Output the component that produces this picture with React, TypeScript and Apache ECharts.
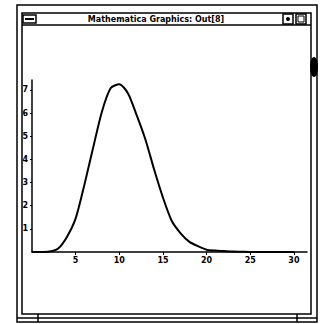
import React, { useEffect, useRef } from "react";
import * as echarts from "echarts";

const xValues = [0, 1, 2, 3, 4, 5, 6, 7, 8, 9, 10, 11, 12, 13, 14, 15, 16, 17, 18, 19, 20, 21, 22, 23, 24, 25, 26, 27, 28, 29, 30];
const yValues = [0, 0, 0.02, 0.15, 0.65, 1.45, 2.9, 4.5, 6.05, 7.07, 7.25, 6.85, 5.9, 4.85, 3.55, 2.35, 1.35, 0.82, 0.45, 0.25, 0.1, 0.06, 0.04, 0.02, 0.01, 0, 0, 0, 0, 0, 0];
const xTicks = [5, 10, 15, 20, 25, 30];
const yTicks = [1, 2, 3, 4, 5, 6, 7];
const windowTitle = "Mathematica Graphics: Out[8]";

export default function App() {
  const ref = useRef<HTMLDivElement>(null);
  useEffect(() => {
    if (!ref.current) return;
    const chart = echarts.init(ref.current, null, { renderer: "svg" });
    const lineStyle = { stroke: "#000", lineWidth: 1.5, fill: "none" };
    chart.setOption({
      animation: false,
      backgroundColor: "#fff",
      grid: { left: 32, right: 24, top: 80, bottom: 72 },
      xAxis: {
        type: "value",
        min: 0,
        max: 31.5,
        splitLine: { show: false },
        axisLine: { show: true, lineStyle: { color: "#000", width: 1.5 } },
        axisTick: { show: true, length: 3, lineStyle: { color: "#000" }, customValues: xTicks },
        axisLabel: {
          customValues: xTicks,
          color: "#000",
          fontSize: 8,
          fontWeight: "bold",
          fontFamily: "DejaVu Sans",
          margin: 4,
        },
      },
      yAxis: {
        type: "value",
        min: 0,
        max: 7.43,
        splitLine: { show: false },
        axisLine: { show: true, lineStyle: { color: "#000", width: 1.5 } },
        axisTick: { show: true, length: 2, lineStyle: { color: "#000" }, customValues: yTicks },
        axisLabel: {
          customValues: yTicks,
          color: "#000",
          fontSize: 8,
          fontWeight: "bold",
          fontFamily: "DejaVu Sans",
          margin: 4,
        },
      },
      series: [
        {
          type: "line",
          data: xValues.map((x, i) => [x, yValues[i]]),
          showSymbol: false,
          smooth: 0.25,
          lineStyle: { color: "#000", width: 2 },
          z: 3,
        },
      ],
      graphic: [
        { type: "rect", shape: { x: 17, y: 5, width: 300, height: 317 }, style: lineStyle, silent: true },
        { type: "rect", shape: { x: 22, y: 13, width: 289, height: 301 }, style: lineStyle, silent: true },
        { type: "line", shape: { x1: 22, y1: 25, x2: 311, y2: 25 }, style: lineStyle, silent: true },
        { type: "rect", shape: { x: 23, y: 15, width: 13, height: 8 }, style: lineStyle, silent: true },
        { type: "line", shape: { x1: 25, y1: 19, x2: 34, y2: 19 }, style: { stroke: "#000", lineWidth: 2 }, silent: true },
        { type: "rect", shape: { x: 283, y: 14, width: 10, height: 10 }, style: lineStyle, silent: true },
        { type: "circle", shape: { cx: 288, cy: 19, r: 2 }, style: { fill: "#000" }, silent: true },
        { type: "rect", shape: { x: 296, y: 14, width: 10, height: 10 }, style: lineStyle, silent: true },
        { type: "rect", shape: { x: 298, y: 16, width: 6, height: 6 }, style: { stroke: "#000", lineWidth: 1, fill: "none" }, silent: true },
        {
          type: "text",
          style: {
            text: windowTitle,
            x: 156,
            y: 19,
            align: "center",
            verticalAlign: "middle",
            font: "bold 8px 'DejaVu Sans'",
            fill: "#000",
          },
          silent: true,
        },
        { type: "ellipse", shape: { cx: 314, cy: 67, rx: 4, ry: 10 }, style: { fill: "#000" }, silent: true },
        { type: "line", shape: { x1: 17, y1: 318, x2: 317, y2: 318 }, style: lineStyle, silent: true },
        { type: "line", shape: { x1: 38, y1: 314, x2: 38, y2: 322 }, style: lineStyle, silent: true },
        { type: "line", shape: { x1: 297, y1: 314, x2: 297, y2: 322 }, style: lineStyle, silent: true },
      ],
    });
    return () => chart.dispose();
  }, []);
  return (
    <div
      ref={ref}
      style={{ position: "absolute", left: 0, top: 0, width: 331, height: 324 }}
    />
  );
}
